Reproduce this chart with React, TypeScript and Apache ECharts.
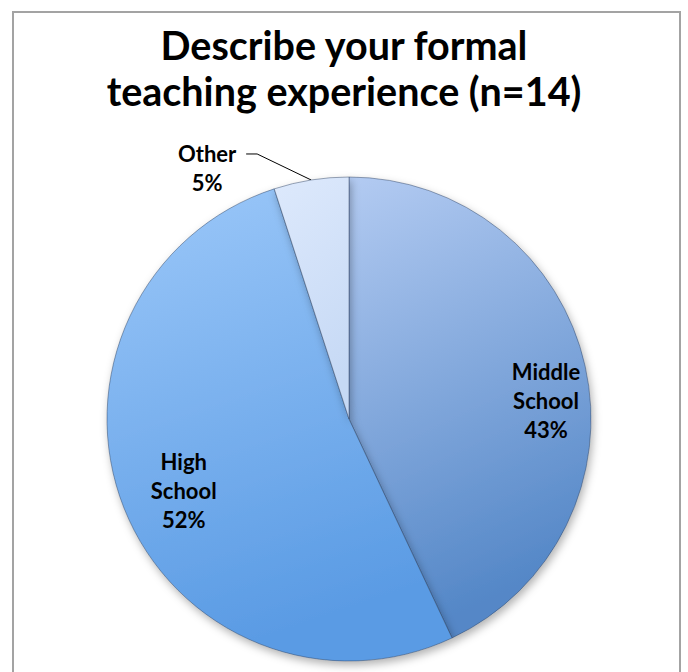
import React, { useEffect, useRef } from 'react';
import * as echarts from 'echarts';

const titleLines = ['Describe your formal', 'teaching experience (n=14)'];
const categories = ['Middle School', 'High School', 'Other'];
const values = [43, 52, 5];
const colorsTop = ['#b3cbf2', '#9cc8f9', '#dde9fc'];
const colorsBottom = ['#5487c7', '#5a9be4', '#c6d9f5'];

export default function App() {
  const ref = useRef<HTMLDivElement>(null);
  useEffect(() => {
    document.body.style.margin = '0';
    const chart = echarts.init(ref.current!, null, { renderer: 'svg' });
    chart.setOption({
      animation: false,
      backgroundColor: '#ffffff',
      title: {
        text: titleLines.join('\n'),
        left: 'center',
        top: 16,
        textStyle: {
          fontFamily: 'Lato',
          fontWeight: 'bold',
          fontSize: 39.5,
          lineHeight: 46,
          color: '#000',
        },
      },
      graphic: [
        {
          type: 'rect',
          silent: true,
          z: 100,
          shape: { x: 13, y: 12, width: 667, height: 720 },
          style: { fill: 'none', stroke: '#a3a3a3', lineWidth: 2 },
        },
      ],
      series: [
        {
          type: 'pie',
          center: [349, 419],
          radius: 242,
          startAngle: 90,
          clockwise: true,
          avoidLabelOverlap: false,
          itemStyle: {
            borderColor: 'rgba(40,60,90,0.45)',
            borderWidth: 1,
            shadowBlur: 8,
            shadowColor: 'rgba(0,0,0,0.3)',
            shadowOffsetX: 2,
            shadowOffsetY: 4,
          },
          label: {
            fontFamily: 'Lato',
            fontWeight: 'bold',
            fontSize: 22,
            lineHeight: 29,
            color: '#000',
            align: 'center',
            formatter: (p: any) => p.name.replace(' ', '\n') + '\n' + p.value + '%',
          },
          labelLine: {
            show: true,
            length: 20,
            length2: 10,
            lineStyle: { color: '#000', width: 1 },
          },
          labelLayout: (p: any) => {
            if (p.dataIndex === 0) return { dx: 76, dy: 9 };
            if (p.dataIndex === 1) return { dx: -50, dy: 26 };
            const pts = p.labelLinePoints;
            if (!pts || !pts[0]) return {};
            const s = pts[0];
            return {
              x: s[0] - 104,
              y: s[1] - 12,
              align: 'center',
              verticalAlign: 'middle',
              labelLinePoints: [
                [s[0], s[1]],
                [s[0] - 54, s[1] - 26],
                [s[0] - 65, s[1] - 26],
              ],
            };
          },
          data: categories.map((c, i) => ({
            name: c,
            value: values[i],
            itemStyle: {
              color: new echarts.graphic.LinearGradient(0, 0, 0.25, 1, [
                { offset: 0, color: colorsTop[i] },
                { offset: 1, color: colorsBottom[i] },
              ]),
            },
            label: { position: i === 2 ? 'outside' : 'inside' },
            labelLine: { show: i === 2 },
          })),
        },
      ],
    });
    return () => chart.dispose();
  }, []);
  return <div ref={ref} style={{ width: 688, height: 672 }} />;
}
